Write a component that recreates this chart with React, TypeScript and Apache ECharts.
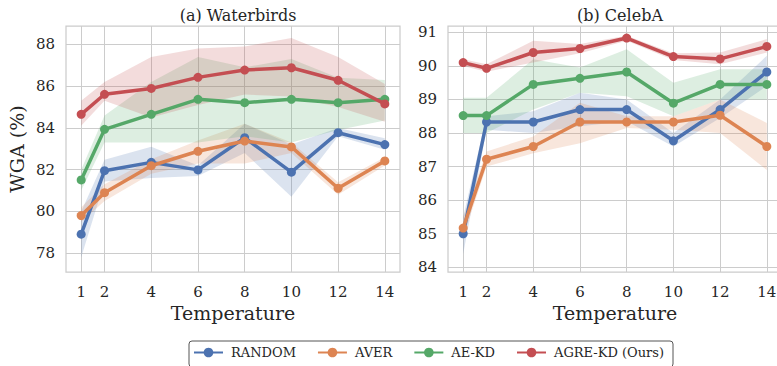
import React, { useEffect, useRef } from "react";
import * as echarts from "echarts";

const X = [1, 2, 4, 6, 8, 10, 12, 14];
const SERIES_NAMES = ["RANDOM", "AVER", "AE-KD", "AGRE-KD (Ours)"];
const COLORS = ["#4C72B0", "#DD8452", "#55A868", "#C44E52"];
const WB_TICKS = [78, 80, 82, 84, 86, 88];
const CE_TICKS = [84, 85, 86, 87, 88, 89, 90, 91];

// (a) Waterbirds
const wbRandom = [78.91, 81.95, 82.35, 81.99, 83.53, 81.88, 83.77, 83.2];
const wbRandomLo = [77.8, 81.43, 81.6, 81.7, 82.8, 80.7, 83.6, 82.95];
const wbRandomHi = [80.0, 82.47, 83.1, 82.2, 84.2, 83.2, 84.0, 83.5];
const wbAver = [79.8, 80.9, 82.19, 82.88, 83.37, 83.09, 81.11, 82.42];
const wbAverLo = [79.5, 80.5, 81.8, 82.3, 82.3, 82.8, 80.8, 82.2];
const wbAverHi = [80.2, 81.3, 82.5, 83.4, 84.2, 83.3, 81.4, 82.6];
const wbAe = [81.51, 83.93, 84.65, 85.37, 85.21, 85.37, 85.21, 85.37];
const wbAeLo = [81.0, 83.3, 83.3, 83.3, 83.6, 83.3, 83.9, 84.35];
const wbAeHi = [82.0, 84.6, 86.2, 87.4, 86.9, 87.3, 86.4, 86.3];
const wbAgre = [84.65, 85.61, 85.89, 86.42, 86.77, 86.88, 86.28, 85.15];
const wbAgreLo = [84.1, 85.3, 84.5, 85.1, 85.6, 85.5, 85.0, 84.3];
const wbAgreHi = [85.3, 86.2, 87.4, 87.8, 87.9, 88.3, 87.4, 86.1];

// (b) CelebA
const ceRandom = [85.0, 88.33, 88.33, 88.7, 88.7, 87.77, 88.7, 89.82];
const ceRandomLo = [84.4, 88.1, 88.0, 88.2, 88.35, 87.6, 88.45, 89.4];
const ceRandomHi = [85.5, 88.5, 88.65, 89.2, 89.0, 88.0, 89.0, 90.3];
const ceAver = [85.17, 87.22, 87.6, 88.33, 88.33, 88.33, 88.53, 87.6];
const ceAverLo = [84.9, 87.0, 87.4, 87.7, 88.15, 88.1, 88.0, 86.9];
const ceAverHi = [85.5, 87.45, 87.9, 88.9, 88.5, 88.5, 89.0, 88.3];
const ceAe = [88.52, 88.52, 89.45, 89.63, 89.82, 88.89, 89.45, 89.45];
const ceAeLo = [88.0, 88.0, 88.7, 89.2, 89.1, 88.5, 89.0, 89.0];
const ceAeHi = [89.05, 89.05, 90.2, 89.95, 90.5, 89.5, 89.9, 89.9];
const ceAgre = [90.1, 89.93, 90.4, 90.52, 90.83, 90.28, 90.21, 90.58];
const ceAgreLo = [90.0, 89.83, 90.1, 90.38, 90.75, 90.18, 90.05, 90.4];
const ceAgreHi = [90.2, 90.05, 90.75, 90.65, 90.9, 90.38, 90.4, 90.8];

const FONT = "DejaVu Serif";
const TXT = "#262626";
const GRIDC = "#cccccc";

function band(axis: number, lo: number[], hi: number[], color: string) {
  return {
    type: "custom",
    xAxisIndex: axis,
    yAxisIndex: axis,
    silent: true,
    z: 1,
    data: X.map((x, i) => [x, lo[i], hi[i]]),
    encode: { x: 0, y: [1, 2] },
    renderItem: (params: any, api: any) => {
      if (params.dataIndex !== 0) return null;
      const top = X.map((x, i) => api.coord([x, hi[i]]));
      const bot = X.map((x, i) => api.coord([x, lo[i]])).reverse();
      return {
        type: "polygon",
        shape: { points: top.concat(bot) },
        style: { fill: color, opacity: 0.2 },
      };
    },
  };
}

function line(axis: number, idx: number, vals: number[]) {
  return {
    type: "line",
    name: SERIES_NAMES[idx],
    xAxisIndex: axis,
    yAxisIndex: axis,
    z: 3 + idx,
    data: X.map((x, i) => [x, vals[i]]),
    symbol: "circle",
    symbolSize: 9,
    showSymbol: true,
    color: COLORS[idx],
    itemStyle: { color: COLORS[idx] },
    lineStyle: { color: COLORS[idx], width: 3.5 },
  };
}

function xAxis(gridIndex: number) {
  return {
    type: "value",
    gridIndex,
    min: 0.35,
    max: 14.65,
    name: "Temperature",
    nameLocation: "middle",
    nameGap: 31,
    nameTextStyle: { fontFamily: FONT, fontSize: 19, color: TXT },
    axisLine: { show: false },
    axisTick: { show: false, customValues: X },
    axisLabel: {
      customValues: X,
      fontFamily: FONT,
      fontSize: 15,
      color: TXT,
      margin: 12,
    },
    splitLine: { show: true, lineStyle: { color: GRIDC, width: 1 } },
  };
}

function yAxis(gridIndex: number, min: number, max: number, ticks: number[], name: string) {
  return {
    type: "value",
    gridIndex,
    min,
    max,
    name,
    nameLocation: "middle",
    nameGap: 40,
    nameTextStyle: { fontFamily: FONT, fontSize: 19, color: TXT },
    axisLine: { show: false },
    axisTick: { show: false, customValues: ticks },
    axisLabel: {
      customValues: ticks,
      fontFamily: FONT,
      fontSize: 15,
      color: TXT,
      margin: 11,
    },
    splitLine: { show: true, lineStyle: { color: GRIDC, width: 1 } },
  };
}

export default function App() {
  const ref = useRef<HTMLDivElement>(null);
  useEffect(() => {
    if (!ref.current) return;
    const chart = echarts.init(ref.current, undefined, { renderer: "svg" });
    const wb = [
      [wbRandom, wbRandomLo, wbRandomHi],
      [wbAver, wbAverLo, wbAverHi],
      [wbAe, wbAeLo, wbAeHi],
      [wbAgre, wbAgreLo, wbAgreHi],
    ];
    const ce = [
      [ceRandom, ceRandomLo, ceRandomHi],
      [ceAver, ceAverLo, ceAverHi],
      [ceAe, ceAeLo, ceAeHi],
      [ceAgre, ceAgreLo, ceAgreHi],
    ];
    const series: any[] = [];
    [wb, ce].forEach((set, axis) => {
      set.forEach((s, i) => series.push(band(axis, s[1], s[2], COLORS[i])));
      set.forEach((s, i) => series.push(line(axis, i, s[0])));
    });
    chart.setOption({
      animation: false,
      backgroundColor: "#ffffff",
      title: [
        {
          text: "(a) Waterbirds",
          left: 233,
          top: 2,
          textAlign: "center",
          textStyle: { fontFamily: FONT, fontSize: 16, fontWeight: "normal", color: TXT },
        },
        {
          text: "(b) CelebA",
          left: 615,
          top: 2,
          textAlign: "center",
          textStyle: { fontFamily: FONT, fontSize: 16, fontWeight: "normal", color: TXT },
        },
      ],
      legend: {
        data: SERIES_NAMES,
        left: 189,
        top: 341,
        orient: "horizontal",
        itemWidth: 29,
        itemHeight: 12,
        itemGap: 21,
        padding: [5, 9, 8, 4],
        borderColor: "#555555",
        borderWidth: 1,
        borderRadius: 3,
        textStyle: { fontFamily: FONT, fontSize: 13, color: TXT, padding: [0, 0, 0, 3] },
      },
      grid: [
        { left: 66, top: 26, width: 334, height: 246, show: true, borderColor: GRIDC, borderWidth: 1.25, backgroundColor: "#ffffff" },
        { left: 448, top: 26, width: 334, height: 246, show: true, borderColor: GRIDC, borderWidth: 1.25, backgroundColor: "#ffffff" },
      ],
      xAxis: [xAxis(0), xAxis(1)],
      yAxis: [
        yAxis(0, 77.1, 88.88, WB_TICKS, "WGA (%)"),
        yAxis(1, 83.86, 91.19, CE_TICKS, ""),
      ],
      series,
    });
    return () => chart.dispose();
  }, []);
  return (
    <div style={{ position: "absolute", left: 0, top: 0, width: 777, height: 366, overflow: "hidden", background: "#fff" }}>
      <div ref={ref} style={{ width: 800, height: 366 }} />
    </div>
  );
}
